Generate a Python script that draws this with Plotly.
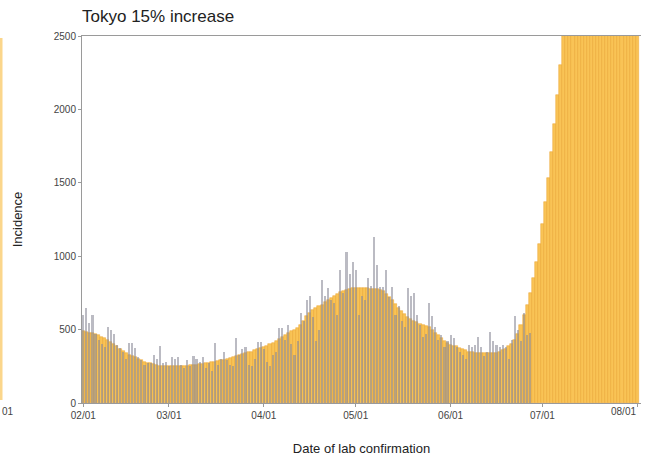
import pandas as pd
import plotly.graph_objects as go

# Daily dates, 1 Feb to 1 Aug 2021
start_date = "2021-02-01"
n_days = 182
n_observed = 147

# Modelled incidence (orange), one value per day
expected = [
    490, 485, 480, 475, 470, 460, 450,
    440, 430, 415, 400, 385, 370, 355,
    340, 330, 320, 310, 300, 290, 280,
    275, 270, 265, 260, 255, 255, 252,
    250, 250, 250, 250, 250, 252, 255,
    258, 260, 262, 265, 268, 270, 274,
    278, 282, 286, 290, 293, 298, 305,
    312, 320, 326, 332, 338, 345, 350,
    358, 365, 372, 380, 390, 400, 412,
    425, 438, 450, 462, 475, 488, 500,
    512, 530, 560, 590, 615, 635, 650,
    660, 670, 685, 700, 715, 730, 745,
    755, 765, 772, 778, 782, 785, 785,
    785, 785, 783, 780, 778, 775, 770,
    760, 745, 725, 700, 675, 650, 625,
    605, 585, 570, 560, 550, 540, 530,
    525, 515, 500, 480, 460, 440, 425,
    410, 398, 390, 385, 375, 365, 358,
    350, 345, 342, 340, 340, 340, 340,
    340, 340, 342, 348, 358, 370, 385,
    400, 430, 470, 530, 600, 670, 750,
    850, 960, 1080, 1220, 1370, 1530, 1710,
    1900, 2100, 2300, 2500, 2720, 2960, 3220,
    3500, 3800, 4130, 4490, 4880, 5300, 5760,
    6260, 6800, 7390, 8030, 8720, 9470, 10290,
    11180, 12150, 13200, 14340, 15580, 16930, 18390,
]

# Confirmed cases by date of lab confirmation (grey)
observed = [
    600, 647, 545, 600, 470, 430, 400,
    380, 518, 495, 470, 395, 375, 347,
    300, 409, 409, 375, 313, 293, 260,
    270, 272, 325, 300, 390, 270, 280,
    250, 313, 300, 310, 260, 240, 290,
    250, 320, 300, 280, 310, 240, 270,
    220, 409, 260, 300, 350, 290, 260,
    250, 440, 330, 370, 380, 260, 250,
    300, 415, 415, 370, 280, 250, 330,
    350, 510, 510, 430, 530, 400, 330,
    420, 613, 560, 700, 730, 585, 420,
    500, 838, 730, 783, 700, 681, 600,
    906, 750, 1028, 880, 960, 906, 600,
    729, 700, 851, 800, 1131, 940, 790,
    790, 906, 720, 790, 600, 660, 560,
    520, 783, 730, 749, 600, 530, 450,
    470, 681, 590, 518, 430, 463, 380,
    420, 463, 440, 381, 350, 330, 300,
    395, 380, 395, 450, 380, 320, 350,
    483, 420, 395, 380, 395, 380, 300,
    430, 590, 500, 420, 613, 460, 480,
]

month_ticks = ["2021-02-01", "2021-03-01", "2021-04-01", "2021-05-01",
               "2021-06-01", "2021-07-01", "2021-08-01"]
month_labels = ["02/01", "03/01", "04/01", "05/01", "06/01", "07/01", "08/01"]
y_ticks = [0, 500, 1000, 1500, 2000, 2500]

dates = pd.date_range(start_date, periods=n_days, freq="D")
day_ms = 86400000

fig = go.Figure()
fig.add_trace(go.Bar(
    x=dates, y=expected, width=day_ms,
    marker=dict(color="rgba(249,190,72,0.92)",
                line=dict(color="rgba(232,158,40,0.75)", width=0.6)),
    name="expected", showlegend=False,
))
fig.add_trace(go.Bar(
    x=dates[:n_observed], y=observed, width=day_ms * 0.68,
    marker=dict(color="rgba(138,138,152,0.58)", line=dict(width=0)),
    name="observed", showlegend=False,
))

font_family = "Liberation Sans, Arial, sans-serif"
axis_grey = "#9a9a9a"

x0 = pd.Timestamp("2021-02-01") - pd.Timedelta(hours=10)
x1 = pd.Timestamp("2021-08-01") + pd.Timedelta(hours=29)

# The last month label sits inside the right edge, so it is drawn separately
shown_labels = month_labels[:-1] + [""]

fig.update_layout(
    width=649, height=457,
    margin=dict(l=82, r=8, t=36, b=54),
    paper_bgcolor="white", plot_bgcolor="white",
    barmode="overlay", bargap=0,
    font=dict(family=font_family, color="#333333", size=10),
    title=dict(text="Tokyo 15% increase", x=82 / 649, xanchor="left",
               y=1 - 16 / 457, yanchor="middle",
               font=dict(size=17, color="#222222", family=font_family)),
    xaxis=dict(
        range=[x0, x1], tickmode="array", tickvals=month_ticks,
        ticktext=shown_labels, ticks="outside", ticklen=3, tickcolor=axis_grey,
        showline=True, linecolor=axis_grey, linewidth=1, mirror=True,
        showgrid=False, zeroline=False, automargin=False,
        tickfont=dict(size=10, color="#444444"),
        title=dict(text="Date of lab confirmation", standoff=23,
                   font=dict(size=13, color="#222222")),
    ),
    yaxis=dict(
        range=[0, 2500], tickvals=y_ticks, ticks="outside", ticklen=3,
        tickcolor=axis_grey, showline=True, linecolor=axis_grey, linewidth=1,
        showgrid=False, zeroline=False, automargin=False,
        tickfont=dict(size=10, color="#444444"),
        title=dict(text="Incidence", standoff=28,
                   font=dict(size=13, color="#222222")),
    ),
)

fig.add_annotation(text=month_labels[-1], xref="paper", yref="paper",
                   x=(638 - 82) / 559, xanchor="right", y=-8 / 367,
                   yanchor="middle", showarrow=False,
                   font=dict(size=10, color="#444444"))

# Edge of the neighbouring panel on the left
fig.add_shape(type="rect", xref="paper", yref="paper",
              x0=-82 / 559, x1=-79.5 / 559, y0=3 / 367, y1=(403 - 38) / 367,
              fillcolor="rgba(249,186,62,0.6)", line=dict(width=0), layer="above")
fig.add_annotation(text="01", xref="paper", yref="paper",
                   x=-82 / 559, xanchor="left", y=-8 / 367, yanchor="middle",
                   showarrow=False, font=dict(size=10, color="#444444"))

fig.write_html("out.html")
